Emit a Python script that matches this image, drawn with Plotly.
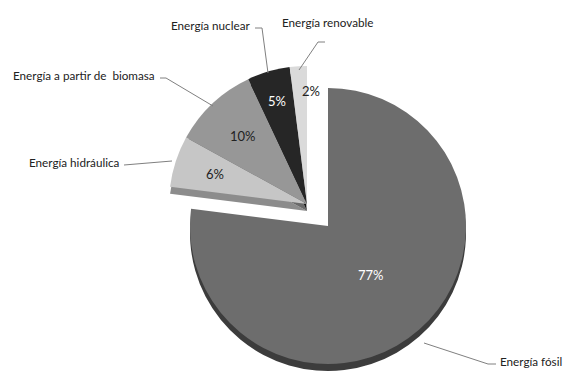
import math
import plotly.graph_objects as go

# ---- data ----
labels = ["Energía fósil", "Energía hidráulica", "Energía a partir de  biomasa",
          "Energía nuclear", "Energía renovable"]
values = [77, 6, 10, 5, 2]
pct_text = [f"{v}%" for v in values]

top_colors = ["#6d6d6d", "#c6c6c6", "#979797", "#262626", "#dadada"]
side_colors = ["#3c3c3c", "#8c8c8c", "#6a6a6a", "#151515", "#a8a8a8"]
text_colors = ["white", "#222222", "#222222", "white", "#222222"]
# radial position of percentage labels, as a fraction of the radius
text_radius = [0.47, 0.70, 0.68, 0.78, 0.82]
text_anchor = ["center", "center", "center", "center", "left"]

W, H = 563, 372
CLEAR = "rgba(0,0,0,0)"


def dom(cx, cy, r):
    return dict(x=[(cx - r) / W, (cx + r) / W],
                y=[1 - (cy + r) / H, 1 - (cy - r) / H])


def px(x, y):
    return x / W, 1 - y / H


R = 138
THICK = 7
groups = [
    dict(center=(328, 226), idx=[0]),
    dict(center=(307, 204), idx=[1, 2, 3, 4]),
]

fig = go.Figure()
for g in groups:
    cx, cy = g["center"]
    cols = [side_colors[i] if i in g["idx"] else CLEAR for i in range(len(values))]
    fig.add_trace(go.Pie(labels=labels, values=values, sort=False, direction="clockwise",
                         rotation=0, domain=dom(cx, cy + THICK, R),
                         marker=dict(colors=cols, line=dict(width=0)),
                         textinfo="none", hoverinfo="skip", showlegend=False))
for g in groups:
    cx, cy = g["center"]
    cols = [top_colors[i] if i in g["idx"] else CLEAR for i in range(len(values))]
    fig.add_trace(go.Pie(labels=labels, values=values, sort=False, direction="clockwise",
                         rotation=0, domain=dom(cx, cy, R),
                         marker=dict(colors=cols, line=dict(width=0)),
                         textinfo="none", hoverinfo="label+percent", showlegend=False))

# percentage labels placed at each slice's mid-angle
total = sum(values)
cum = 0
for i, v in enumerate(values):
    mid = (cum + v / 2) / total * 2 * math.pi
    cum += v
    g = next(g for g in groups if i in g["idx"])
    cx, cy = g["center"]
    d = text_radius[i] * R
    x, y = px(cx + d * math.sin(mid), cy - d * math.cos(mid))
    fig.add_annotation(x=x, y=y, xref="paper", yref="paper", text=pct_text[i],
                       showarrow=False, xanchor=text_anchor[i], yanchor="middle",
                       font=dict(family="Lato", size=13, color=text_colors[i]))

# outside labels with leader lines
label_specs = [
    (3, 252, 25, "right", [(255, 28), (262, 28), (268, 73)]),
    (4, 280, 22, "left", [(325, 42), (318, 42), (299, 70)]),
    (2, 157, 75, "right", [(160, 78), (166, 78), (213, 106)]),
    (1, 122, 162, "right", [(124, 165), (172, 161)]),
    (0, 498, 361, "left", [(496, 364), (488, 364), (424, 343)]),
]
shapes = []
for i, tx, ty, xa, pts in label_specs:
    x, y = px(tx, ty)
    fig.add_annotation(x=x, y=y, xref="paper", yref="paper", text=labels[i],
                       showarrow=False, xanchor=xa, yanchor="middle",
                       font=dict(family="Lato", size=11.7, color="#222222"))
    path = "M " + " L ".join(f"{px(a, b)[0]},{px(a, b)[1]}" for a, b in pts)
    shapes.append(dict(type="path", path=path, xref="paper", yref="paper",
                       line=dict(color="#808080", width=1)))

fig.update_layout(width=W, height=H, margin=dict(l=0, r=0, t=0, b=0),
                  paper_bgcolor="white", plot_bgcolor="white", shapes=shapes)

fig.write_html("out.html")
